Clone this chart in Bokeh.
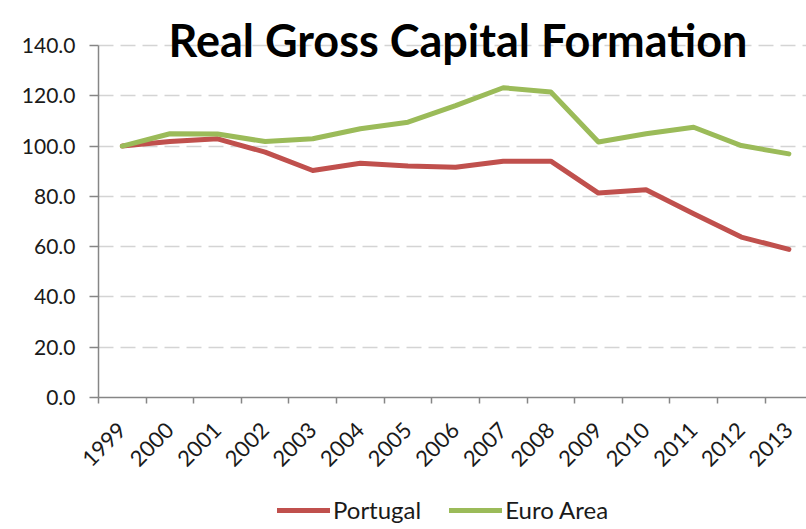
import math
from bokeh.plotting import figure
from bokeh.layouts import column
from bokeh.models import (Range1d, LinearAxis, FixedTicker, CustomJSTickFormatter,
                          NumeralTickFormatter, Label, Legend, LegendItem, Grid)
from bokeh.embed import file_html
from bokeh.resources import INLINE

years = ["1999", "2000", "2001", "2002", "2003", "2004", "2005", "2006",
         "2007", "2008", "2009", "2010", "2011", "2012", "2013"]
portugal = [100.0, 101.8, 102.9, 97.6, 90.3, 93.2, 92.1, 91.6,
            94.0, 94.0, 81.3, 82.6, 73.1, 63.8, 58.9]
euro_area = [100.0, 104.9, 104.8, 101.8, 102.9, 106.9, 109.5, 116.1,
             123.2, 121.5, 101.6, 104.9, 107.5, 100.2, 96.9]
series_names = ["Portugal", "Euro Area"]
series_colors = ["#C0504D", "#9BBB59"]
y_ticks = [0, 20, 40, 60, 80, 100, 120, 140]
title_text = "Real Gross Capital Formation"

xs = [i + 0.5 for i in range(len(years))]
FONT = "Lato"
LW = 5

# main chart: frame reaches the page top so the title label sits inside it
p = figure(width=806, height=490, output_backend="svg", toolbar_location=None,
           x_range=Range1d(0, 14.87), y_range=Range1d(0, 157.9),
           x_axis_type=None, y_axis_type=None,
           min_border_left=98, min_border_right=0, min_border_top=0,
           min_border_bottom=93)
p.outline_line_color = None
p.background_fill_color = "white"
p.border_fill_color = "white"

yax = LinearAxis(ticker=FixedTicker(ticks=y_ticks, minor_ticks=[]),
                 formatter=NumeralTickFormatter(format="0.0"), bounds=(0, 140))
yax.axis_line_color = "#868686"
yax.axis_line_width = 1.5
yax.major_tick_line_color = "#868686"
yax.major_tick_line_width = 1.5
yax.major_tick_in = 0
yax.major_tick_out = 9
yax.major_label_standoff = 14
yax.major_label_text_font = FONT
yax.major_label_text_font_size = "21px"
yax.major_label_text_color = "#1a1a1a"
p.add_layout(yax, "left")

xax = LinearAxis(ticker=FixedTicker(ticks=xs, minor_ticks=list(range(len(years) + 1))),
                 formatter=CustomJSTickFormatter(args=dict(labels=years),
                                                 code="return labels[Math.round(tick - 0.5)] || '';"))
xax.axis_line_color = "#868686"
xax.axis_line_width = 1.5
xax.major_tick_in = 0
xax.major_tick_out = 0
xax.minor_tick_in = 0
xax.minor_tick_out = 6
xax.minor_tick_line_color = "#868686"
xax.minor_tick_line_width = 1.5
xax.major_label_orientation = math.pi / 4
xax.major_label_standoff = 23
xax.major_label_text_font = FONT
xax.major_label_text_font_size = "22px"
xax.major_label_text_color = "#1a1a1a"
p.add_layout(xax, "below")

grid = Grid(dimension=1, ticker=FixedTicker(ticks=y_ticks[1:]), bounds=(0, 140))
grid.grid_line_color = "#d4d4d4"
grid.grid_line_width = 1.5
grid.grid_line_dash = "15 7"
p.add_layout(grid)

p.line(xs, portugal, line_color=series_colors[0], line_width=LW,
       line_join="round", line_cap="round")
p.line(xs, euro_area, line_color=series_colors[1], line_width=LW,
       line_join="round", line_cap="round")

title = Label(x=7.55, y=142, text=title_text, text_align="center", text_baseline="alphabetic",
              text_font=FONT, text_font_style="bold", text_font_size="45px", text_color="black")
p.add_layout(title)

# legend strip below the chart (same series, hidden: only their legend swatches show)
q = figure(width=806, height=39, output_backend="svg", toolbar_location=None,
           x_range=Range1d(0, 14.87), y_range=Range1d(0, 157.9),
           x_axis_type=None, y_axis_type=None,
           min_border_left=0, min_border_right=0, min_border_top=0, min_border_bottom=0)
q.outline_line_color = None
q.xgrid.visible = False
q.ygrid.visible = False
q.border_fill_color = "white"
items = []
for name, col, vals in zip(series_names, series_colors, [portugal, euro_area]):
    r = q.line(xs, vals, line_color=col, line_width=LW, line_cap="round", visible=False)
    items.append(LegendItem(label=name, renderers=[r]))

legend = Legend(items=items, location=(179, 5), orientation="horizontal")
legend.glyph_width = 53
legend.glyph_height = 20
legend.label_standoff = 3
legend.spacing = 28
legend.padding = 0
legend.margin = 0
legend.border_line_color = None
legend.background_fill_alpha = 0
legend.inactive_fill_alpha = 0
legend.label_text_font = FONT
legend.label_text_font_size = "24px"
legend.label_text_color = "#1a1a1a"
q.add_layout(legend, "center")

layout = column(p, q, spacing=0)
open("out.html", "w").write(file_html(layout, INLINE))
